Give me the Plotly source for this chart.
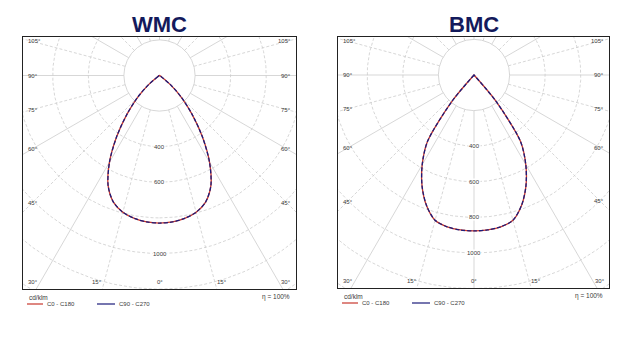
import numpy as np
import plotly.graph_objects as go

# ---------------- data (cd/klm) ----------------
gamma_deg = [0, 5, 10, 15, 20, 25, 30, 35, 40, 45, 50, 55, 60]
wmc_c0_c180 = [829, 826, 815, 795, 757, 683, 562, 420, 285, 175, 80, 12, 0]
wmc_c90_c270 = [829, 826, 815, 795, 757, 683, 562, 420, 285, 175, 80, 12, 0]
bmc_c0_c180 = [876, 874, 866, 845, 780, 690, 582, 455, 190, 0, 0, 0, 0]
bmc_c90_c270 = [876, 874, 866, 845, 780, 690, 582, 455, 190, 0, 0, 0, 0]

ring_values = [200, 400, 600, 800, 1000, 1200, 1400]
wmc_ring_labels = [400, 600, 1000]
bmc_ring_labels = [400, 600, 800, 1000]
side_angles = [105, 90, 75, 60, 45]
bottom_angles = [30, 15, 0]
titles = ["WMC", "BMC"]
legend_texts = ["C0 - C180", "C90 - C270"]
unit_text = "cd/klm"
eta_text = "η = 100%"

# ---------------- layout constants (pixels) ----------------
W, H = 637, 337
S = 0.178  # px per cd/klm
panels = [
    dict(cx=159.5, cy=75.5, L=23, R=296, T=37, B=289, c0=wmc_c0_c180, c90=wmc_c90_c270,
         labels=wmc_ring_labels, zero_spoke=False),
    dict(cx=474.0, cy=75.0, L=338, R=609, T=37, B=288, c0=bmc_c0_c180, c90=bmc_c90_c270,
         labels=bmc_ring_labels, zero_spoke=True),
]

RED = "#c8372d"
BLUE = "#1c1c7a"
GRID = "#cdcdcd"
TXT = "#3a3a3a"
NAVY = "#141a5c"
FONT = "Liberation Sans, Arial, sans-serif"

fig = go.Figure()
annotations = []
shapes = []


def px2paper(x, y):
    return x / W, 1 - y / H


for i, p in enumerate(panels):
    xa = "x" if i == 0 else "x2"
    ya = "y" if i == 0 else "y2"
    xmin, xmax = (p["L"] - p["cx"]) / S, (p["R"] - p["cx"]) / S
    ymin, ymax = -(p["B"] - p["cy"]) / S, (p["cy"] - p["T"]) / S

    # grid rings
    t = np.linspace(0, 2 * np.pi, 361)
    sx, sy, dx, dy = [], [], [], []
    for rv in ring_values:
        xs = list(rv * np.sin(t)) + [None]
        ys = list(-rv * np.cos(t)) + [None]
        if rv == 200:
            sx += xs; sy += ys
        else:
            dx += xs; dy += ys
    # spokes
    for a in range(0, 360, 15):
        if a == 0 and not p["zero_spoke"]:
            continue
        g = np.radians(a)
        xs = [200 * np.sin(g), 1800 * np.sin(g), None]
        ys = [-200 * np.cos(g), -1800 * np.cos(g), None]
        if a % 30 == 0:
            sx += xs; sy += ys
        else:
            dx += xs; dy += ys
    fig.add_trace(go.Scatter(x=sx, y=sy, mode="lines", line=dict(color=GRID, width=0.8),
                             hoverinfo="skip", showlegend=False, xaxis=xa, yaxis=ya))
    fig.add_trace(go.Scatter(x=dx, y=dy, mode="lines", line=dict(color=GRID, width=0.8, dash="3px,2px"),
                             hoverinfo="skip", showlegend=False, xaxis=xa, yaxis=ya))

    # curves
    g = np.radians(np.array(gamma_deg, dtype=float))
    for vals, col, dash, wdt in [(p["c0"], RED, None, 1.3), (p["c90"], BLUE, "4px,2px", 1.3)]:
        v = np.array(vals, dtype=float)
        left_x = list((-v * np.sin(g))[::-1])
        left_y = list((-v * np.cos(g))[::-1])
        right_x = list((v * np.sin(g))[1:])
        right_y = list((-v * np.cos(g))[1:])
        fig.add_trace(go.Scatter(x=left_x + right_x, y=left_y + right_y, mode="lines",
                                 line=dict(color=col, width=wdt, dash=dash, shape="spline", smoothing=0.8),
                                 hoverinfo="skip", showlegend=False, xaxis=xa, yaxis=ya))

    # ring labels
    for rv in p["labels"]:
        annotations.append(dict(x=0, y=-rv, xref=xa, yref=ya, text=str(rv), showarrow=False,
                                font=dict(size=6, color=TXT, family=FONT), bgcolor="white",
                                borderpad=0, xanchor="center", yanchor="middle"))
    # side angle labels
    for a in side_angles:
        cot = np.cos(np.radians(a)) / np.sin(np.radians(a))
        xl = xmin + 3 / S
        yl = -(abs(xmin) - 9 / S) * cot
        annotations.append(dict(x=xl, y=yl, xref=xa, yref=ya, text=f"{a}°", showarrow=False,
                                font=dict(size=6, color=TXT, family=FONT), xanchor="left", yanchor="middle"))
        xr = xmax - 3 / S
        yr = -(abs(xmax) - 9 / S) * cot
        annotations.append(dict(x=xr, y=yr, xref=xa, yref=ya, text=f"{a}°", showarrow=False,
                                font=dict(size=6, color=TXT, family=FONT), xanchor="right", yanchor="middle"))
    # bottom angle labels
    for a in bottom_angles:
        yb = ymin + 7 / S
        xb = abs(yb) * np.tan(np.radians(a))
        if a == 0:
            annotations.append(dict(x=0, y=yb, xref=xa, yref=ya, text="0°", showarrow=False,
                                    font=dict(size=6, color=TXT, family=FONT), xanchor="center", yanchor="middle"))
        else:
            annotations.append(dict(x=-xb, y=yb, xref=xa, yref=ya, text=f"{a}°", showarrow=False,
                                    font=dict(size=6, color=TXT, family=FONT), xanchor="right", yanchor="middle"))
            annotations.append(dict(x=xb, y=yb, xref=xa, yref=ya, text=f"{a}°", showarrow=False,
                                    font=dict(size=6, color=TXT, family=FONT), xanchor="left", yanchor="middle"))

    # axes
    axcommon = dict(showgrid=False, zeroline=False, showticklabels=False, ticks="",
                    showline=True, mirror=True, linecolor="#222222", linewidth=1.4, fixedrange=True)
    fig.layout[("xaxis" if i == 0 else "xaxis2")] = dict(domain=[p["L"] / W, p["R"] / W],
                                                        range=[xmin, xmax], anchor=ya, **axcommon)
    fig.layout[("yaxis" if i == 0 else "yaxis2")] = dict(domain=[1 - p["B"] / H, 1 - p["T"] / H],
                                                        range=[ymin, ymax], anchor=xa, **axcommon)

    # title
    tx, ty = px2paper(p["cx"], 24.5)
    annotations.append(dict(x=tx, y=ty, xref="paper", yref="paper", text=f"<b>{titles[i]}</b>",
                            showarrow=False, font=dict(size=22, color=NAVY, family=FONT),
                            xanchor="center", yanchor="middle"))

    # legend below box
    lx = p["L"] + 4
    ly = p["B"] + 8
    ux, uy = px2paper(lx, ly)
    annotations.append(dict(x=ux, y=uy, xref="paper", yref="paper", text=unit_text, showarrow=False,
                            font=dict(size=6.5, color=TXT, family=FONT), xanchor="left", yanchor="middle"))
    ex, ey = px2paper(p["R"] - 4, ly)
    annotations.append(dict(x=ex, y=ey, xref="paper", yref="paper", text=eta_text, showarrow=False,
                            font=dict(size=6.5, color=TXT, family=FONT), xanchor="right", yanchor="middle"))
    lny = p["B"] + 15
    for (x0, x1, col, txt) in [(lx, lx + 16, RED, legend_texts[0]), (lx + 70, lx + 88, BLUE, legend_texts[1])]:
        a0, b0 = px2paper(x0, lny)
        a1, _ = px2paper(x1, lny)
        shapes.append(dict(type="line", xref="paper", yref="paper", x0=a0, x1=a1, y0=b0, y1=b0,
                           line=dict(color=col, width=1.2)))
        tx2, ty2 = px2paper(x1 + 2, lny)
        annotations.append(dict(x=tx2, y=ty2, xref="paper", yref="paper", text=txt, showarrow=False,
                                font=dict(size=6, color=TXT, family=FONT), xanchor="left", yanchor="middle"))

fig.update_layout(width=W, height=H, margin=dict(l=0, r=0, t=0, b=0),
                  paper_bgcolor="white", plot_bgcolor="white",
                  annotations=annotations, shapes=shapes, showlegend=False)
fig.write_html("out.html")
